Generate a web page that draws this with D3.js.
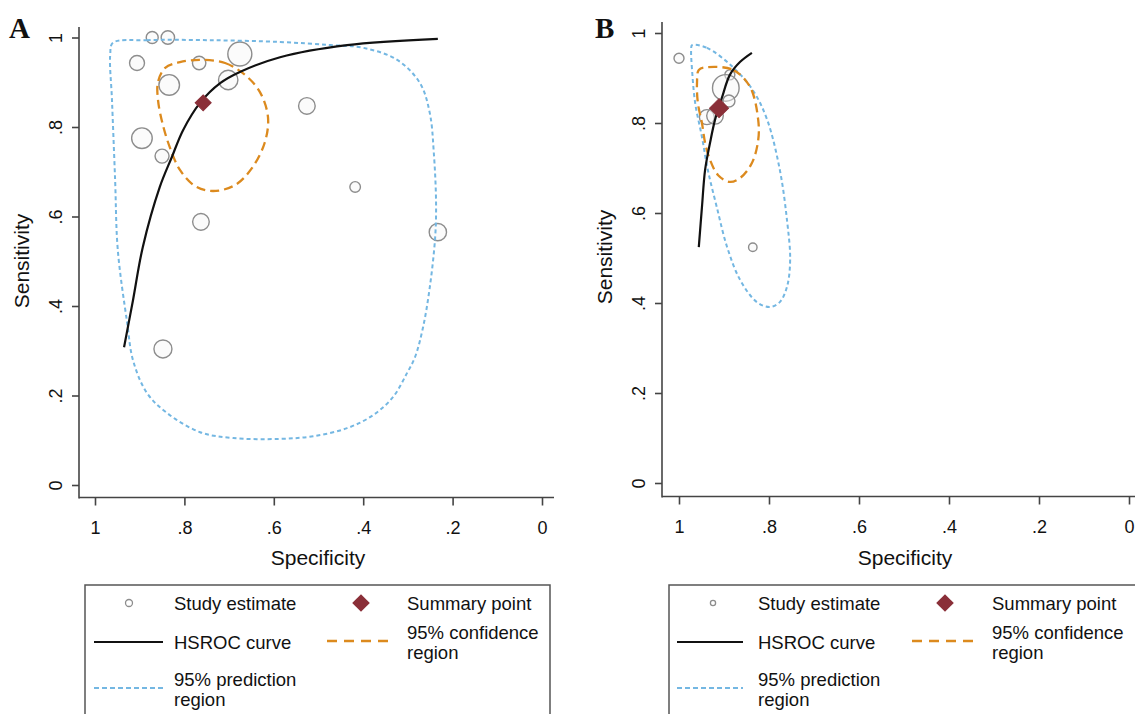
<!DOCTYPE html>
<html>
<head>
<meta charset="utf-8">
<script src="https://cdn.jsdelivr.net/npm/d3@7/dist/d3.min.js"></script>
<style>
  body { margin: 0; background: #fff; }
  text { font-family: "Liberation Sans", Arial, sans-serif; fill: #111; }
</style>
</head>
<body>
<svg id="chart" width="1135" height="714"></svg>
<script>
var ticks = [0, .2, .4, .6, .8, 1];
var tickLabels = ["0", ".2", ".4", ".6", ".8", "1"];

// Panel A - study estimates (specificity, sensitivity, weight)
var aSpec   = [0.872, 0.837, 0.906, 0.767, 0.676, 0.834, 0.702, 0.895, 0.850, 0.763, 0.526, 0.418, 0.848, 0.233];
var aSens   = [1.000, 1.000, 0.943, 0.943, 0.963, 0.894, 0.905, 0.775, 0.735, 0.588, 0.847, 0.666, 0.304, 0.565];
var aWeight = [36, 45, 56, 45, 144, 106, 94, 106, 49, 69, 69, 28, 81, 75];
var aSummary = [0.758, 0.854];
var aCurveSpec = [0.935, 0.915, 0.893, 0.855, 0.828, 0.803, 0.765, 0.720, 0.676, 0.586, 0.436, 0.233];
var aCurveSens = [0.308, 0.413, 0.532, 0.666, 0.733, 0.793, 0.854, 0.898, 0.923, 0.956, 0.983, 0.997];
var aConfSpec = [0.765, 0.709, 0.664, 0.631, 0.613, 0.620, 0.649, 0.687, 0.736, 0.776, 0.810, 0.832, 0.848, 0.859, 0.859, 0.843, 0.810];
var aConfSens = [0.950, 0.943, 0.916, 0.878, 0.822, 0.766, 0.708, 0.670, 0.657, 0.668, 0.704, 0.753, 0.804, 0.860, 0.901, 0.932, 0.945];
var aPredSpec = [0.960, 0.884, 0.743, 0.586, 0.474, 0.400, 0.324, 0.273, 0.251, 0.242, 0.237, 0.239, 0.251, 0.266, 0.284, 0.302, 0.333, 0.378, 0.436, 0.512, 0.586, 0.691, 0.765, 0.839, 0.884, 0.915, 0.928, 0.949, 0.955, 0.962, 0.966];
var aPredSens = [0.988, 0.994, 0.994, 0.990, 0.983, 0.977, 0.950, 0.898, 0.831, 0.742, 0.630, 0.554, 0.442, 0.353, 0.286, 0.250, 0.197, 0.156, 0.127, 0.109, 0.103, 0.105, 0.118, 0.161, 0.206, 0.279, 0.362, 0.525, 0.682, 0.860, 0.961];

// Panel B
var bSpec   = [1.000, 0.887, 0.896, 0.889, 0.938, 0.920, 0.836];
var bSens   = [0.944, 0.907, 0.878, 0.849, 0.813, 0.816, 0.524];
var bWeight = [25, 25, 177, 36, 56, 69, 18];
var bSummary = [0.911, 0.833];
var bCurveSpec = [0.956, 0.949, 0.942, 0.931, 0.920, 0.904, 0.887, 0.864, 0.838];
var bCurveSens = [0.524, 0.613, 0.696, 0.756, 0.807, 0.858, 0.907, 0.936, 0.956];
var bConfSpec = [0.938, 0.880, 0.842, 0.824, 0.824, 0.838, 0.864, 0.887, 0.913, 0.931, 0.942, 0.949, 0.958, 0.960, 0.956];
var bConfSens = [0.924, 0.918, 0.880, 0.807, 0.762, 0.711, 0.678, 0.669, 0.684, 0.718, 0.756, 0.800, 0.844, 0.889, 0.918];
var bPredSpec = [0.971, 0.938, 0.880, 0.836, 0.804, 0.776, 0.760, 0.753, 0.760, 0.776, 0.798, 0.827, 0.864, 0.893, 0.916, 0.936, 0.949, 0.964, 0.971, 0.973];
var bPredSens = [0.973, 0.967, 0.924, 0.873, 0.807, 0.696, 0.584, 0.496, 0.436, 0.402, 0.391, 0.402, 0.451, 0.524, 0.613, 0.696, 0.769, 0.844, 0.918, 0.962];

var legendLabels = ["Study estimate", "Summary point", "HSROC curve", "95% confidence", "region", "95% prediction", "region"];

var ORANGE = "#dc8a1e", BLUE = "#74b7e2", MAROON = "#8a2f38", AXIS = "#444";

var svg = d3.select("#chart");
var rScale = d3.scaleSqrt().domain([0, 100]).range([0, 10]);

function zip(a, b) { return a.map(function(d, i){ return [d, b[i]]; }); }

function drawPanel(p) {
  var g = svg.append("g");
  var x = d3.scaleLinear().domain([1, 0]).range([p.x1, p.x0]);
  var y = d3.scaleLinear().domain([0, 1]).range([p.y0, p.y1]);

  // axes
  g.append("line").attr("x1", p.ax).attr("x2", p.ax).attr("y1", p.axTop).attr("y2", p.ay + 1)
    .attr("stroke", AXIS).attr("stroke-width", 1.6);
  g.append("line").attr("x1", p.ax).attr("x2", p.axRight).attr("y1", p.ay).attr("y2", p.ay)
    .attr("stroke", AXIS).attr("stroke-width", 1.6);

  var fmt = function(d){ return tickLabels[ticks.indexOf(d)]; };
  var yAxis = g.append("g").attr("transform", "translate(" + p.ax + ",0)")
    .call(d3.axisLeft(y).tickValues(ticks).tickSize(7).tickFormat(fmt));
  var xAxis = g.append("g").attr("transform", "translate(0," + p.ay + ")")
    .call(d3.axisBottom(x).tickValues(ticks).tickSize(8).tickFormat(fmt));
  [yAxis, xAxis].forEach(function(a){
    a.select(".domain").remove();
    a.selectAll("line").attr("stroke", AXIS).attr("stroke-width", 1.6);
    a.selectAll("text").style("font-size", "18px").attr("fill", "#111");
  });
  yAxis.selectAll("text").attr("x", null).attr("dy", null)
    .attr("text-anchor", "middle").attr("transform", "translate(-17,0) rotate(-90)");
  xAxis.selectAll("text").attr("dy", null).attr("y", 36);

  g.append("text").attr("x", p.titleX).attr("y", 565).attr("text-anchor", "middle")
    .style("font-size", "21px").text("Specificity");
  g.append("text").attr("transform", "translate(" + p.sensX + "," + p.sensY + ") rotate(-90)")
    .attr("text-anchor", "middle").style("font-size", "21px").text("Sensitivity");
  g.append("text").attr("x", p.labX).attr("y", 38)
    .style("font-family", "'Liberation Serif', 'Times New Roman', serif")
    .style("font-weight", "bold").style("font-size", "29px").text(p.label);

  var line = d3.line().x(function(d){ return x(d[0]); }).y(function(d){ return y(d[1]); });

  // study estimates
  g.selectAll("circle.study").data(zip(p.spec, p.sens).map(function(d, i){ return [d[0], d[1], p.weight[i]]; }))
    .enter().append("circle").attr("class", "study")
    .attr("cx", function(d){ return x(d[0]); })
    .attr("cy", function(d){ return y(d[1]); })
    .attr("r", function(d){ return rScale(d[2]); })
    .attr("fill", "#f7f7f7").attr("fill-opacity", 0.45)
    .attr("stroke", "#8d8d8d").attr("stroke-width", 1.4);

  // prediction region
  g.append("path").datum(zip(p.predSpec, p.predSens))
    .attr("d", line.curve(d3.curveCatmullRomClosed.alpha(0.5)))
    .attr("fill", "none").attr("stroke", BLUE).attr("stroke-width", 2)
    .attr("stroke-dasharray", "4,3");
  // confidence region
  g.append("path").datum(zip(p.confSpec, p.confSens))
    .attr("d", line.curve(d3.curveCatmullRomClosed.alpha(0.5)))
    .attr("fill", "none").attr("stroke", ORANGE).attr("stroke-width", 2.3)
    .attr("stroke-dasharray", "9,5");
  // HSROC curve
  g.append("path").datum(zip(p.curveSpec, p.curveSens))
    .attr("d", line.curve(d3.curveCatmullRom.alpha(0.5)))
    .attr("fill", "none").attr("stroke", "#111").attr("stroke-width", 2.2);

  // summary point
  g.append("path")
    .attr("d", d3.symbol().type(d3.symbolSquare).size(2 * p.diamond * p.diamond)())
    .attr("transform", "translate(" + x(p.summary[0]) + "," + y(p.summary[1]) + ") rotate(45)")
    .attr("fill", MAROON).attr("stroke", MAROON);

  // legend
  var L = p.legend;
  g.append("rect").attr("x", L.x).attr("y", 585).attr("width", L.w).attr("height", 160)
    .attr("fill", "none").attr("stroke", "#555").attr("stroke-width", 1.5);
  g.append("circle").attr("cx", L.mx).attr("cy", 603).attr("r", L.mr)
    .attr("fill", "#fff").attr("stroke", "#8d8d8d").attr("stroke-width", 1.3);
  g.append("path")
    .attr("d", d3.symbol().type(d3.symbolSquare).size(2 * 8.8 * 8.8)())
    .attr("transform", "translate(" + L.dx + ",603) rotate(45)")
    .attr("fill", MAROON);
  g.append("line").attr("x1", L.l1).attr("x2", L.l2).attr("y1", 642).attr("y2", 642)
    .attr("stroke", "#111").attr("stroke-width", 2.2);
  g.append("line").attr("x1", L.o1).attr("x2", L.o2).attr("y1", 641).attr("y2", 641)
    .attr("stroke", ORANGE).attr("stroke-width", 2.3).attr("stroke-dasharray", "10,7");
  g.append("line").attr("x1", L.l1).attr("x2", L.l2).attr("y1", 688).attr("y2", 688)
    .attr("stroke", BLUE).attr("stroke-width", 2).attr("stroke-dasharray", "5,3");

  var pos = [[L.t1, 610], [L.t2, 610], [L.t1, 649], [L.t2, 639], [L.t2, 659], [L.t1, 686], [L.t1, 706]];
  legendLabels.forEach(function(t, i){
    g.append("text").attr("x", pos[i][0]).attr("y", pos[i][1])
      .style("font-size", "18.5px").text(t);
  });
}

drawPanel({
  label: "A", labX: 9,
  x1: 95, x0: 542, y0: 485, y1: 37.5,
  ax: 79, ay: 497.5, axTop: 27, axRight: 554,
  titleX: 318, sensX: 29, sensY: 261,
  spec: aSpec, sens: aSens, weight: aWeight, summary: aSummary, diamond: 8,
  curveSpec: aCurveSpec, curveSens: aCurveSens,
  confSpec: aConfSpec, confSens: aConfSens,
  predSpec: aPredSpec, predSens: aPredSens,
  legend: { x: 85, w: 465, mx: 129, mr: 3.5, dx: 361, l1: 94, l2: 163, o1: 327, o2: 395, t1: 174, t2: 407 }
});

drawPanel({
  label: "B", labX: 595,
  x1: 679, x0: 1129, y0: 483, y1: 33,
  ax: 662, ay: 496.5, axTop: 22, axRight: 1145,
  titleX: 905, sensX: 612, sensY: 257,
  spec: bSpec, sens: bSens, weight: bWeight, summary: bSummary, diamond: 9.5,
  curveSpec: bCurveSpec, curveSens: bCurveSens,
  confSpec: bConfSpec, confSens: bConfSens,
  predSpec: bPredSpec, predSens: bPredSens,
  legend: { x: 669, w: 500, mx: 713, mr: 2.6, dx: 945, l1: 677, l2: 743, o1: 912, o2: 975, t1: 758, t2: 992 }
});
</script>
</body>
</html>
